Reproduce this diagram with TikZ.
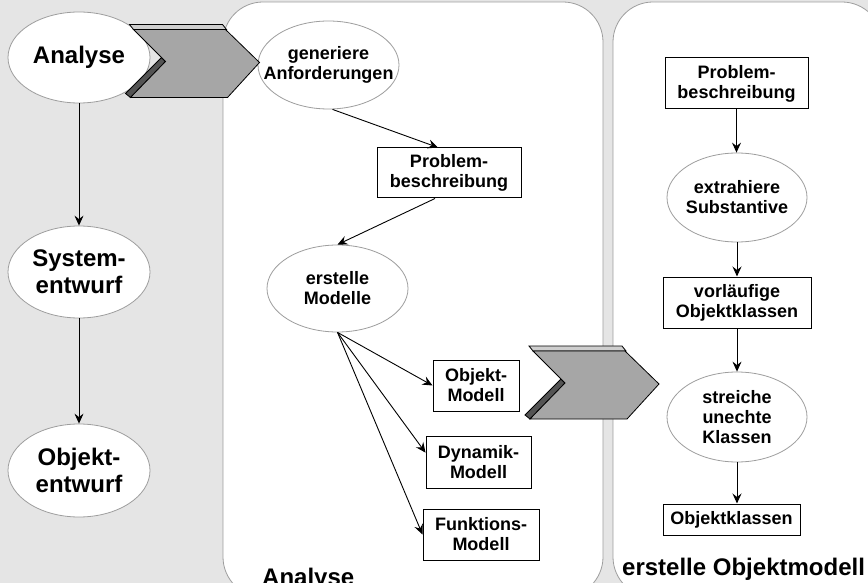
\documentclass[tikz,border=0pt]{standalone}
\usepackage{fontspec}
\setmainfont{Liberation Sans}
\usetikzlibrary{arrows.meta,shapes.geometric}

\definecolor{bggray}{RGB}{229,229,229}
\definecolor{rimgray}{RGB}{158,158,158}
\definecolor{facegray}{RGB}{166,166,166}
\definecolor{topgray}{RGB}{206,206,206}
\definecolor{sidegray}{RGB}{84,84,84}

\tikzset{
  x=1pt, y=-1pt,
  every node/.style={font=\bfseries\fontsize{18}{20}\selectfont, align=center, inner sep=0pt},
  bigtext/.style={font=\bfseries\fontsize{24}{27}\selectfont},
  oval/.style={ellipse, draw=rimgray, fill=white, line width=0.8pt},
  box/.style={rectangle, draw=black, fill=white, line width=1pt},
  flow/.style={-{Stealth[length=10pt,width=9pt,inset=3.5pt]}, line width=0.9pt},
  panel/.style={draw=rimgray, fill=white, line width=0.8pt, rounded corners=40pt},
  caption/.style={bigtext, anchor=base west},
  chevframe/.style={draw=black, line width=0.8pt, line join=miter}
}

% extruded chevron arrow, origin at the upper left corner of its top rim
\newcommand\chevronarrow[1]{%
  \begin{scope}[shift={#1}]
    \fill[topgray, chevframe] (0,0) -- (93,0) -- (97,5) -- (4,5) -- cycle;
    \fill[sidegray, chevframe] (32,33) -- (36,37) -- (1,73) -- (-4,69) -- cycle;
    \fill[facegray, chevframe] (4,5) -- (96,5) -- (130,38) -- (98,73) -- (1,73) -- (36,37) -- cycle;
  \end{scope}}

\begin{document}
\begin{tikzpicture}
  \useasboundingbox (0,0) rectangle (868,583);
  \clip (0,0) rectangle (868,583);
  \fill[bggray] (0,0) rectangle (868,583);

  % the two activity panels
  \draw[panel] (223,2) rectangle (603,597);
  \draw[panel] (613,2) rectangle (882,597);
  \node[caption] (capA) at (262,585) {Analyse};
  \node[caption] (capB) at (622,575) {erstelle Objektmodell};

  % development phases
  \node[oval, minimum width=142pt, minimum height=91pt,
        label={[bigtext]center:Analyse}] (ana) at (79,57.5) {};
  \node[oval, minimum width=142pt, minimum height=92pt,
        label={[bigtext]center:System-\\entwurf}] (sys) at (79,272) {};
  \node[oval, minimum width=142pt, minimum height=93pt,
        label={[bigtext]center:Objekt-\\entwurf}] (obj) at (79,470.5) {};
  \draw[flow] (ana.south) -- (sys.north);
  \draw[flow] (sys.south) -- (obj.north);

  % analysis activities
  \node[oval, minimum width=141pt, minimum height=88pt,
        label={center:generiere\\Anforderungen}] (gen) at (328.5,65) {};
  \node[box, minimum width=144pt, minimum height=50pt] (pb1) at (449,173) {Problem-\\beschreibung};
  \node[oval, minimum width=141pt, minimum height=87pt,
        label={center:erstelle\\Modelle}] (mod) at (337.5,288.5) {};
  \node[box, minimum width=86pt, minimum height=51pt] (om) at (476,385.5) {Objekt-\\Modell};
  \node[box, minimum width=105pt, minimum height=52pt] (dm) at (478.5,462) {Dynamik-\\Modell};
  \node[box, minimum width=116pt, minimum height=51pt] (fm) at (481,534.5) {Funktions-\\Modell};

  \draw[flow] ([xshift=4pt]gen.south) -- ([xshift=-11pt]pb1.north);
  \draw[flow] ([xshift=-14pt]pb1.south) -- (mod.north);
  \draw[flow] (mod.south) -- (om.west);
  \draw[flow] (mod.south) -- (dm.170);
  \draw[flow] (mod.south) -- (fm.west);

  % object model activities
  \node[box, minimum width=143pt, minimum height=51pt] (pb2) at (736.5,83.5) {Problem-\\beschreibung};
  \node[oval, minimum width=140pt, minimum height=89pt,
        label={center:extrahiere\\Substantive}] (ex) at (737,197.5) {};
  \node[box, minimum width=148pt, minimum height=51pt] (vk) at (737,302.5) {vorläufige\\Objektklassen};
  \node[oval, minimum width=140pt, minimum height=90pt,
        label={center:streiche\\unechte\\Klassen}] (st) at (737,417) {};
  \node[box, minimum width=137pt, minimum height=31pt] (ok) at (731.5,519.5) {Objektklassen};

  \draw[flow] (pb2.south) -- (pb2.south |- ex.north);
  \draw[flow] (ex.south) -- (ex.south |- vk.north);
  \draw[flow] (vk.south) -- (vk.south |- st.north);
  \draw[flow] (st.south) -- (st.south |- ok.north);

  % refinement arrows
  \chevronarrow{(129.5,24.5)}
  \chevronarrow{(529,346)}
\end{tikzpicture}
\end{document}
